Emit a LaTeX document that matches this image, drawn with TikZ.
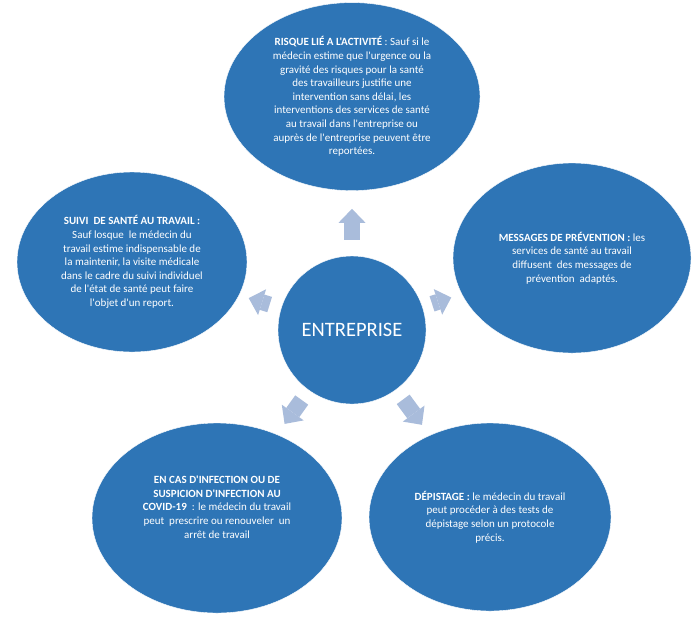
\documentclass[tikz,border=0pt]{standalone}
\usepackage{fontspec}
\setmainfont{Carlito}[Ligatures=TeXOff]
\usepackage{xcolor}
\definecolor{smartblue}{HTML}{2E75B6}
\definecolor{arrowblue}{HTML}{A9BCDB}
\usepackage{tikz}
\usetikzlibrary{
  arrows.meta,
  positioning,
  shapes.geometric
}

\begin{document}
\begin{tikzpicture}[
  x=1pt, y=-1pt,
  hubnode/.style={circle, fill=smartblue, draw=white, minimum size=148pt, inner sep=0pt, text=white, font=\fontsize{20.5}{24}\selectfont},
  topicnode/.style={ellipse, fill=smartblue, draw=white, inner sep=0pt, text=white, align=center, font=\fontsize{11}{13.6}\selectfont},
  blockarr/.style={-{Triangle[width=27pt, length=14pt, line width=0pt]}, line width=16pt, arrowblue},
]
\useasboundingbox (0,0) rectangle (700,616);

\node[hubnode] (hub) at (352,330) {ENTREPRISE};
\node[topicnode, minimum width=256pt, minimum height=188pt, above=65pt of hub] (risque) {\textbf{RISQUE LIÉ A L'ACTIVITÉ} : Sauf si le\\médecin estime que l'urgence ou la\\gravité des risques pour la santé\\des travailleurs justifie une\\intervention sans délai, les\\interventions des services de santé\\au travail dans l'entreprise ou\\auprès de l'entreprise peuvent être\\reportées.};
\node[topicnode, minimum width=230pt, minimum height=180pt] (suivi) at (132,262) {\textbf{SUIVI\ \ DE SANTÉ AU TRAVAIL :}\\Sauf losque\ \ le médecin du\\travail estime indispensable de\\la maintenir, la visite médicale\\dans le cadre du suivi individuel\\de l'état de santé peut faire\\l'objet d'un report.};
\node[topicnode, minimum width=238pt, minimum height=190pt] (messages) at (572,258) {\textbf{MESSAGES DE PRÉVENTION :} les\\services de santé au travail\\diffusent\ \ des messages de\\prévention\ \ adaptés.};
\node[topicnode, minimum width=250pt, minimum height=190pt] (covid) at (217,518) {\textbf{EN CAS D'INFECTION OU DE}\\\textbf{SUSPICION D'INFECTION AU}\\\textbf{COVID-19}\ \ : le médecin du travail\\peut\ \ prescrire ou renouveler\ \ un\\arrêt de travail\\[8pt]~};
\node[topicnode, minimum width=242pt, minimum height=188pt] (depistage) at (490,517) {\textbf{DÉPISTAGE :} le médecin du travail\\peut procéder à des tests de\\dépistage selon un protocole\\précis.};

\draw[blockarr, shorten <=16pt, shorten >=18pt] (hub) -- (risque);
\draw[blockarr, shorten <=12pt, shorten >=10pt] (hub) -- (suivi);
\draw[blockarr, shorten <=10pt, shorten >=11pt] (hub) -- (messages);
\draw[blockarr, shorten <=12pt, shorten >=13pt] (hub) -- (covid);
\draw[blockarr, shorten <=12pt, shorten >=13pt] (hub) -- (depistage);

\end{tikzpicture}
\end{document}
